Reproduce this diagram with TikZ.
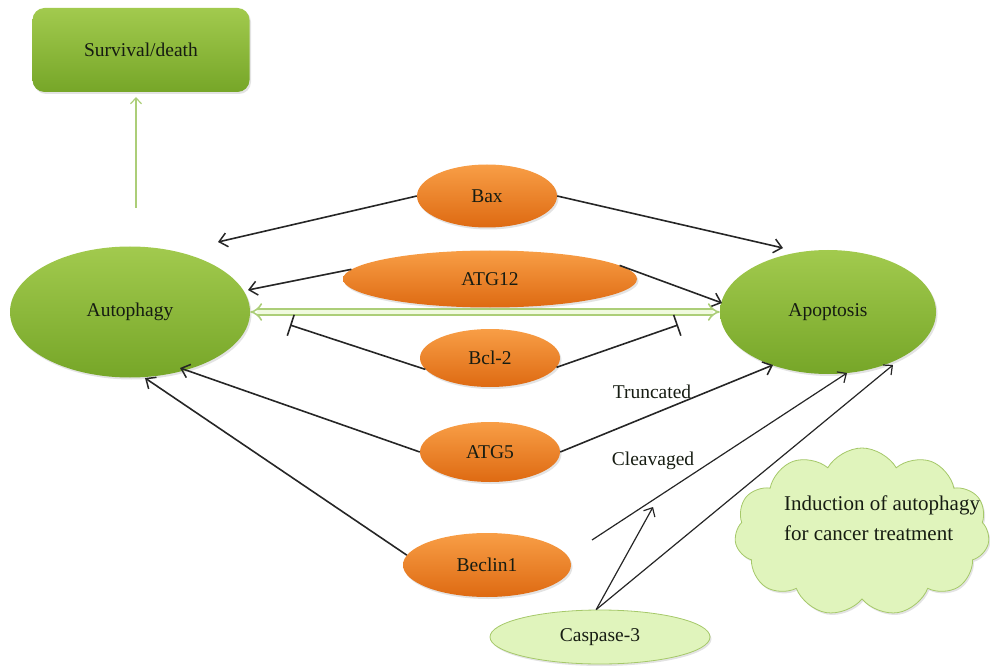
\documentclass[tikz,border=0pt]{standalone}
\usepackage{fontspec}
\setmainfont{Liberation Serif}
\usetikzlibrary{shapes.geometric,shapes.symbols,arrows.meta,shadows}
\definecolor{gtop}{RGB}{162,202,78}
\definecolor{gbot}{RGB}{118,166,40}
\definecolor{otop}{RGB}{248,158,70}
\definecolor{obot}{RGB}{222,106,18}
\definecolor{lg}{RGB}{224,244,188}
\definecolor{lgb}{RGB}{165,200,105}
\definecolor{agreen}{RGB}{172,206,120}
\definecolor{apale}{RGB}{240,250,222}
\definecolor{txt}{RGB}{22,28,18}
\newcommand\lblfont{\fontsize{19.5}{23}\selectfont}
\tikzset{
  shd/.style={drop shadow={opacity=0.22,shadow xshift=1.5pt,shadow yshift=-2pt}},
  gell/.style={ellipse,inner sep=0pt,top color=gtop,bottom color=gbot,shd,text=txt},
  oell/.style={ellipse,inner sep=0pt,top color=otop,bottom color=obot,shd,text=txt},
  arr/.style={-{Straight Barb[length=8pt,width=14pt,line width=1.5pt]},line width=1.6pt,black!85},
  tarr/.style={-{Straight Barb[length=7pt,width=13pt,line width=1.2pt]},line width=1.2pt,black!85},
  inh/.style={-{Bar[width=22pt,line width=1.6pt]},line width=1.6pt,black!85},
}
\begin{document}
\begin{tikzpicture}[x=1pt,y=-1pt,font=\lblfont]
\useasboundingbox (0,0) rectangle (990,668);
% nodes
\node[rounded corners=12pt,minimum width=217pt,minimum height=84pt,inner sep=0pt,
      top color=gtop,bottom color=gbot,shd,text=txt] (surv) at (141,50) {Survival/death};
\node[gell,minimum width=240pt,minimum height=131pt] (auto) at (130,312) {Autophagy};
\node[gell,minimum width=216pt,minimum height=124pt] (apop) at (828,312) {Apoptosis};
\node[oell,minimum width=140pt,minimum height=63pt] (bax) at (487,196) {Bax};
\node[oell,minimum width=294pt,minimum height=57pt] (atg12) at (490,279) {ATG12};
\node[oell,minimum width=140pt,minimum height=58pt] (bcl) at (490,358) {Bcl-2};
\node[oell,minimum width=140pt,minimum height=60pt] (atg5) at (490,452) {ATG5};
\node[oell,minimum width=168pt,minimum height=64pt] (becl) at (487,565) {Beclin1};
\node[ellipse,inner sep=0pt,minimum width=220pt,minimum height=54pt,fill=lg,draw=lgb,line width=0.8pt,shd,text=txt] (casp) at (600,637) {Caspase-3};
\node[cloud,cloud puffs=11,cloud puff arc=120,aspect=1.55,minimum width=255pt,minimum height=168pt,
      fill=lg,draw=lgb,line width=0.8pt,shd] (cloud) at (862,532) {};
\node[align=left,text=txt,inner sep=0pt,font=\fontsize{21}{25}\selectfont] (cloudtxt) at (882,518) {Induction of autophagy\\[5pt]for cancer treatment};
\node[text=txt,inner sep=0pt] (trunc) at (652,392) {Truncated};
\node[text=txt,inner sep=0pt] (cleav) at (653,461) {Cleavaged};
% coordinates
\coordinate (s0) at (136,208);
\coordinate (s1) at (136,97);
\coordinate (b1) at (218,242);
\coordinate (b2) at (783,248);
\coordinate (a1) at (248,290);
\coordinate (a2) at (722,303);
\coordinate (i1) at (290,325);
\coordinate (i2) at (678,325);
\coordinate (t1) at (180,368);
\coordinate (t2) at (773,365);
\coordinate (e1) at (145,378);
\coordinate (c0) at (592,540);
\coordinate (c1) at (847,373);
\coordinate (k1) at (653,507);
\coordinate (k2) at (893,365);
% connectors
\draw[-{Straight Barb[length=6pt,width=11pt,line width=1.2pt]},line width=1.4pt,agreen] (s0) -- (s1);
\draw[arr] (bax.west) -- (b1);
\draw[arr] (bax.east) -- (b2);
\draw[arr] (atg12.176) -- (a1);
\draw[arr] (atg12.6) -- (a2);
\draw[line width=1.6pt,draw=agreen,double=apale,double distance=4.5pt,{Implies}-{Implies}] (auto.east) -- (apop.west);
\draw[inh] (bcl.190) -- (i1);
\draw[inh] (bcl.-8) -- (i2);
\draw[arr] (atg5.west) -- (t1);
\draw[arr] (atg5.east) -- (t2);
\draw[arr] (becl.173) -- (e1);
\draw[tarr] (c0) -- (c1);
\draw[tarr] (casp.98) -- (k1);
\draw[tarr] (casp.98) -- (k2);
\end{tikzpicture}
\end{document}
